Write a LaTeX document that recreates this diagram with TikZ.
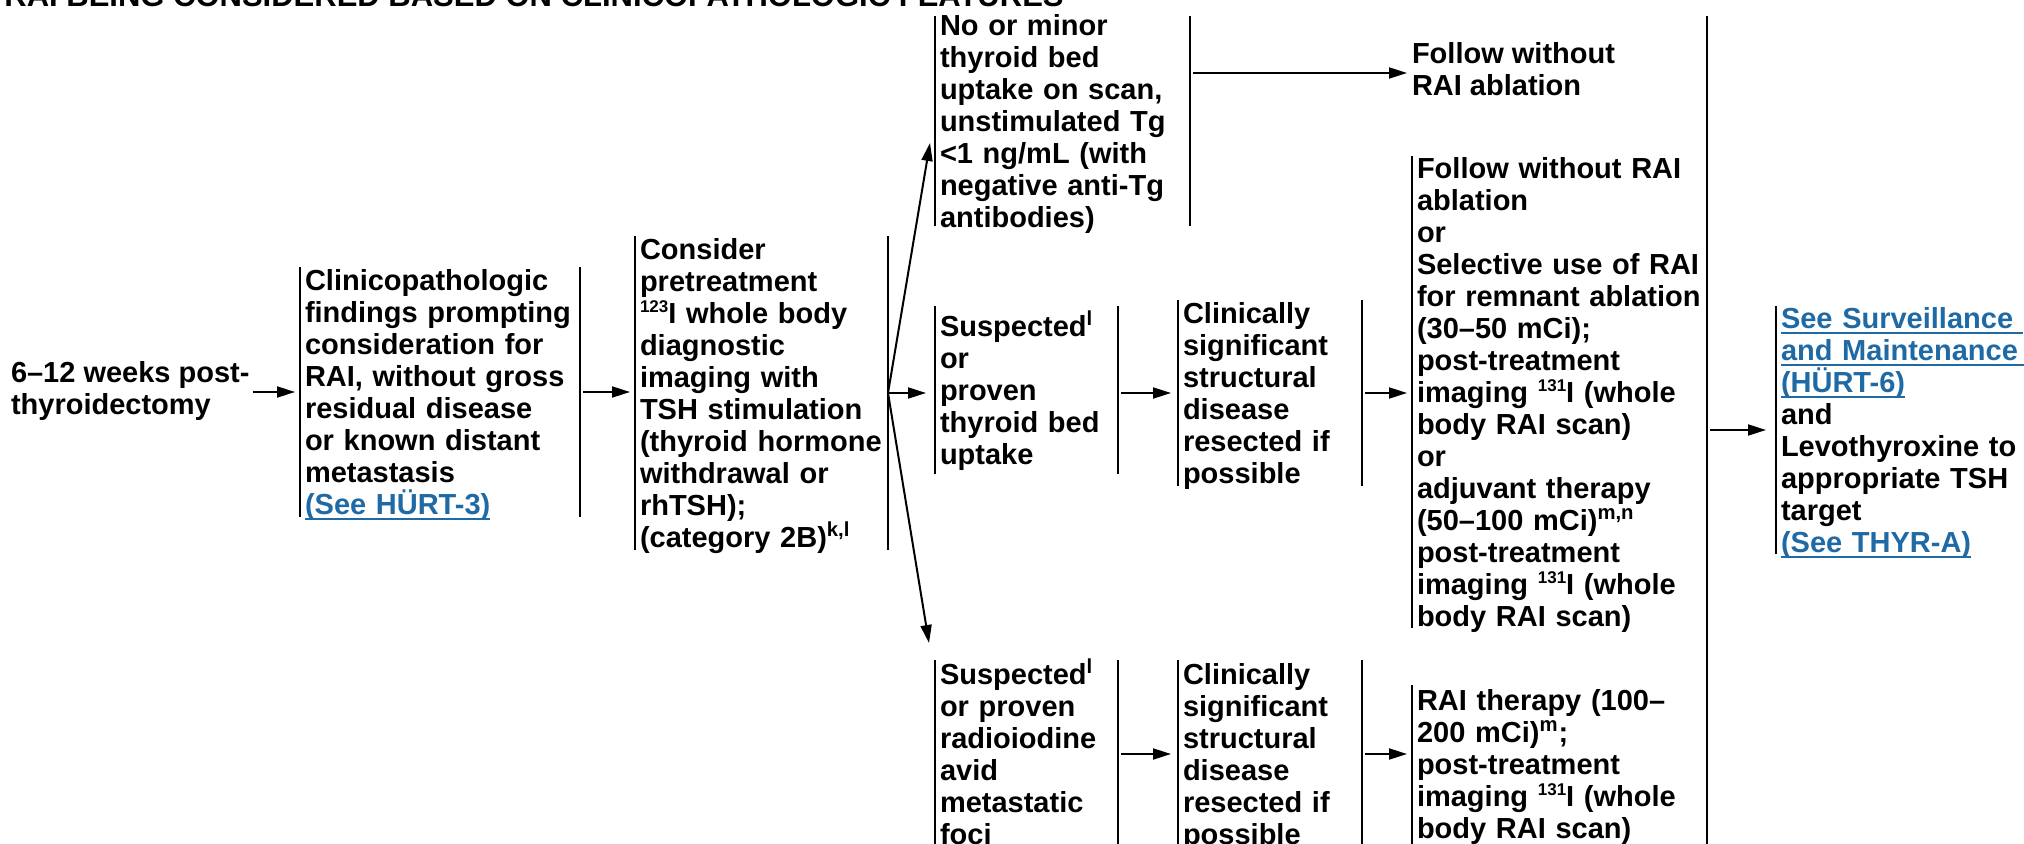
\documentclass[tikz,border=0pt]{standalone}
\usepackage{fontspec}
\setmainfont{Liberation Sans}
\usetikzlibrary{arrows.meta,calc}
\definecolor{linkblue}{RGB}{31,106,165}
\newcommand{\mainfnt}{\fontsize{14.5pt}{16pt}\selectfont\bfseries}
\newcommand{\isup}[1]{\raisebox{5.5pt}{\fontsize{8.5pt}{8.5pt}\selectfont #1}}
\newcommand{\lnkul}[1]{\textcolor{linkblue}{\setbox0\hbox{#1}\rlap{\rule[-2.6pt]{\wd0}{1pt}}\box0}}
\newcommand{\tstrut}{\rule{0pt}{14pt}}
\newcommand{\bstrut}{\rule[-3.6pt]{0pt}{3.6pt}}
\tikzset{
  barline/.style={line width=1.35pt, line cap=butt},
  arr/.style={line width=1pt, -{Triangle[length=9pt,width=5.5pt]}, shorten <=1.5pt, shorten >=2.5pt},
  fan/.style={line width=1pt, -{Triangle[length=9pt,width=5.5pt]}},
  txt/.style={inner sep=0pt, outer sep=0pt, align=left, execute at begin node=\tstrut, execute at end node=\bstrut},
  bx/.style={txt, inner xsep=2.5pt,
    append after command={([yshift=#1]\tikzlastnode.west) edge[barline] ([yshift=-#1]\tikzlastnode.west)
                          ([yshift=#1]\tikzlastnode.east) edge[barline] ([yshift=-#1]\tikzlastnode.east)}},
  lbx/.style={txt, inner xsep=2.5pt,
    append after command={([yshift=#1]\tikzlastnode.west) edge[barline] ([yshift=-#1]\tikzlastnode.west)}},
}
\begin{document}
\begin{tikzpicture}[x=0.5pt, y=-0.5pt, font=\mainfnt]
\useasboundingbox (0,0) rectangle (2024,844);

\node[anchor=base west, inner sep=0pt, font=\fontsize{15.5pt}{18pt}\selectfont\bfseries] (title) at (4,7)
  {RAI BEING CONSIDERED BASED ON CLINICOPATHOLOGIC FEATURES};

\node[txt, anchor=west] (start) at (11,392) {6–12 weeks post-\\thyroidectomy};

\node[bx=62.5pt, text width=135pt] (clin0) at (440,392)
  {Clinicopathologic\\findings prompting\\consideration for\\RAI, without gross\\residual disease\\or known distant\\metastasis\\\lnkul{(See HÜRT-3)}};

\node[bx=78.25pt, text width=121.5pt] (consider) at (761.5,393)
  {Consider\\pretreatment\\\isup{123}I whole body\\diagnostic\\imaging with\\TSH stimulation\\(thyroid hormone\\withdrawal or\\rhTSH);\\(category 2B)\textsuperscript{k,l}};

\node[bx=52.5pt, text width=122.5pt] (nominor) at (1062.5,121)
  {No or minor\\thyroid bed\\uptake on scan,\\unstimulated Tg\\<1 ng/mL (with\\negative anti-Tg\\antibodies)};

\node[bx=42pt, text width=86.5pt] (susp1) at (1026.5,390)
  {Suspected\textsuperscript{l}\\or\\proven\\thyroid bed\\uptake};

\node[bx=46.5pt, text width=87pt] (clin1) at (1270,393)
  {Clinically\\significant\\structural\\disease\\resected if\\possible};

\node[bx=47pt, text width=86.5pt] (susp2) at (1026.5,754)
  {Suspected\textsuperscript{l}\\or proven\\radioiodine\\avid\\metastatic\\foci};

\node[bx=47pt, text width=87pt] (clin2) at (1270,754)
  {Clinically\\significant\\structural\\disease\\resected if\\possible};

\node[txt, anchor=west] (follow1) at (1412,73) {Follow without\\RAI ablation};

\node[lbx=117.75pt, text width=145pt] (follow2) at (1562,392)
  {Follow without RAI\\ablation\\or\\Selective use of RAI\\for remnant ablation\\(30–50 mCi);\\post-treatment\\imaging \isup{131}I (whole\\body RAI scan)\\or\\adjuvant therapy\\(50–100 mCi)\textsuperscript{m,n}\\post-treatment\\imaging \isup{131}I (whole\\body RAI scan)};

\node[lbx=39.75pt, text width=145pt] (rai) at (1562,764)
  {RAI therapy (100–\\200 mCi)\textsuperscript{m};\\post-treatment\\imaging \isup{131}I (whole\\body RAI scan)};

\node[lbx=62pt, text width=125pt] (final) at (1906,430)
  {\lnkul{See Surveillance\ }\\\lnkul{and Maintenance\ }\\\lnkul{(HÜRT-6)}\\and\\Levothyroxine to\\appropriate TSH\\target\\\lnkul{(See THYR-A)}};

\coordinate (colltop) at (1707,16);
\coordinate (collbot) at (1707,860);
\draw[barline] (colltop) -- (collbot);

\draw[arr] (start.east) -- (start.east -| clin0.west);
\draw[arr] (clin0.east) -- (clin0.east -| consider.west);
\draw[fan] (consider.east) -- ([shift={(-5,22)}]nominor.west);
\draw[arr, shorten <=0pt, shorten >=4.5pt] (consider.east) -- (consider.east -| susp1.west);
\draw[fan] (consider.east) -- ([shift={(-6,-111)}]susp2.west);
\draw[arr] (nominor.east |- follow1.west) -- (follow1.west);
\draw[arr, shorten >=3.5pt] (susp1.east |- consider.east) -- (clin1.west |- consider.east);
\draw[arr] (clin1.east |- consider.east) -- (follow2.west |- consider.east);
\draw[arr, shorten >=3.5pt] (susp2.east) -- (susp2.east -| clin2.west);
\draw[arr] (clin2.east) -- (clin2.east -| rai.west);
\draw[arr, shorten >=5pt] (colltop |- final.west) -- (final.west);
\end{tikzpicture}
\end{document}
